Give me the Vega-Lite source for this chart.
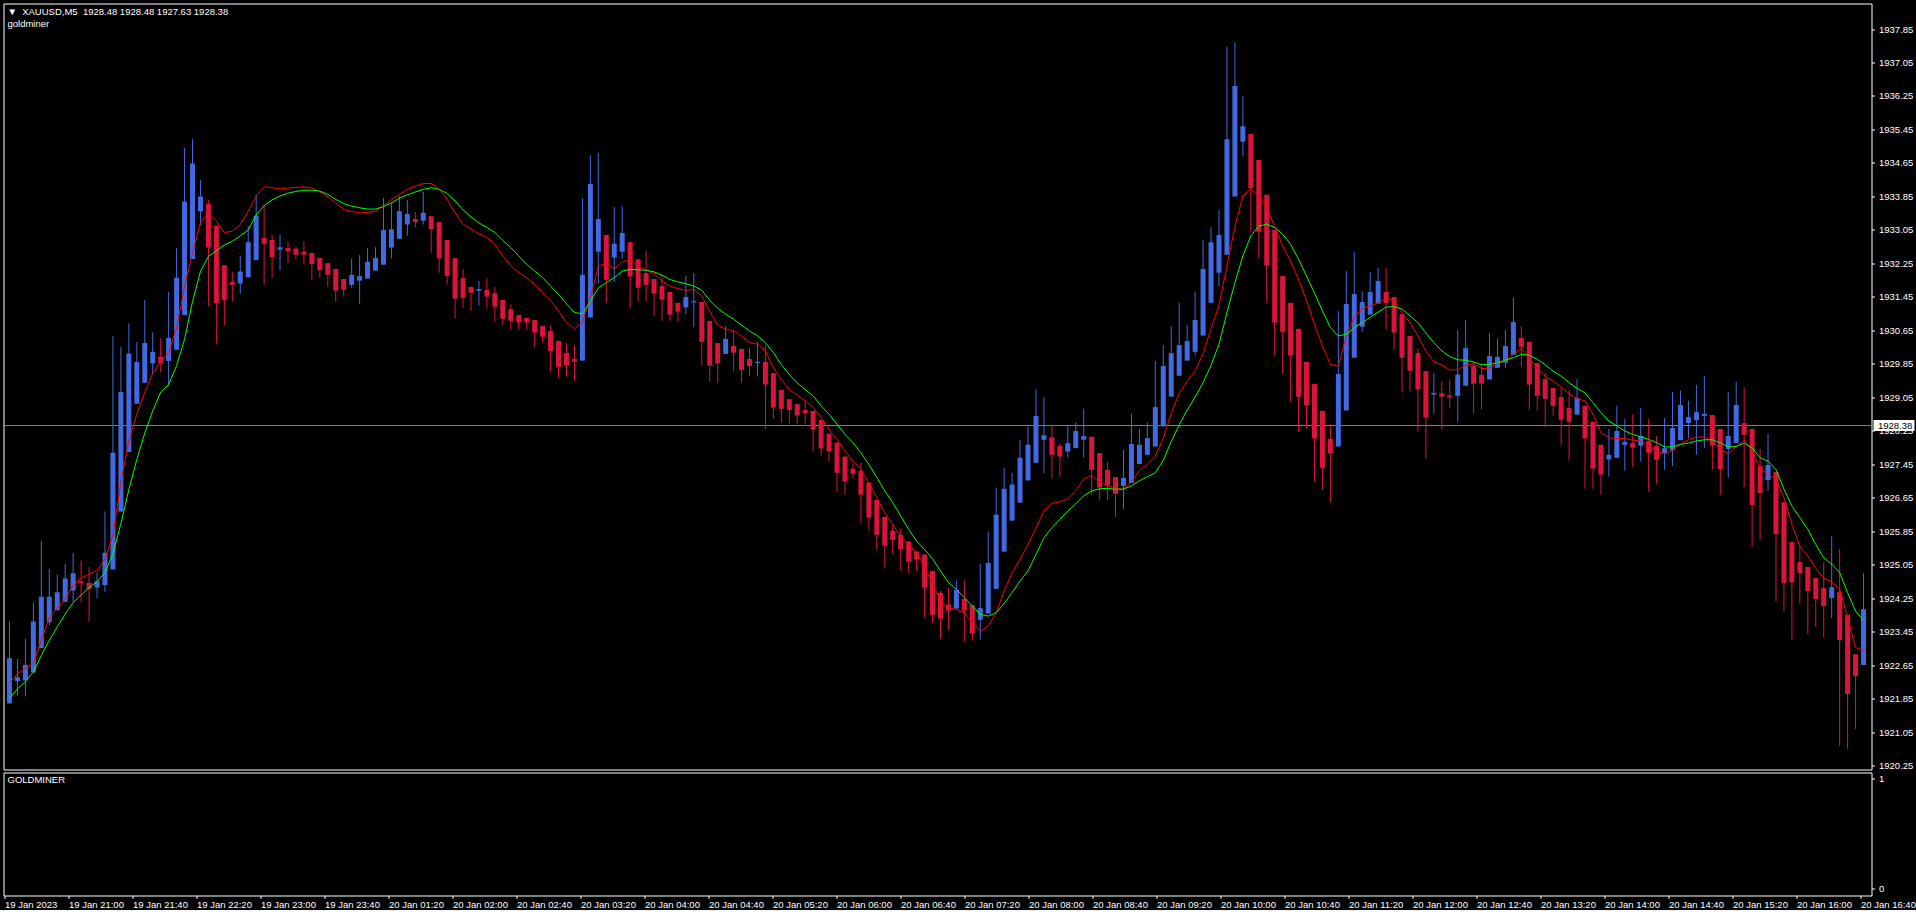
{
"$schema": "https://vega.github.io/schema/vega-lite/v6.json",
"background": "#000000",
"padding": {"left": 2.5, "top": 2.5, "right": 0, "bottom": 0},
"spacing": 3,
"bounds": "flush",
"datasets": {
"bid": [{"p": 1928.38}],
"bars": [
{"i":0,"o":1921.75,"h":1923.70,"l":1921.73,"c":1922.82,"r":1922.23,"g":1921.86},
{"i":1,"o":1922.28,"h":1922.80,"l":1921.93,"c":1922.37,"r":1922.45,"g":1922.09},
{"i":2,"o":1922.30,"h":1923.29,"l":1921.91,"c":1922.66,"r":1922.58,"g":1922.27},
{"i":3,"o":1922.48,"h":1924.15,"l":1922.48,"c":1923.70,"r":1922.71,"g":1922.49},
{"i":4,"o":1923.07,"h":1925.63,"l":1923.07,"c":1924.29,"r":1923.25,"g":1922.89},
{"i":5,"o":1923.68,"h":1924.96,"l":1923.61,"c":1924.29,"r":1923.79,"g":1923.25},
{"i":6,"o":1923.97,"h":1924.82,"l":1923.97,"c":1924.40,"r":1924.02,"g":1923.57},
{"i":7,"o":1924.17,"h":1925.08,"l":1924.17,"c":1924.73,"r":1924.24,"g":1923.88},
{"i":8,"o":1924.44,"h":1925.34,"l":1924.17,"c":1924.85,"r":1924.56,"g":1924.15},
{"i":9,"o":1924.66,"h":1925.16,"l":1924.15,"c":1924.62,"r":1924.74,"g":1924.33},
{"i":10,"o":1924.62,"h":1925.00,"l":1923.70,"c":1924.47,"r":1924.83,"g":1924.51},
{"i":11,"o":1924.51,"h":1924.87,"l":1924.26,"c":1924.66,"r":1924.92,"g":1924.65},
{"i":12,"o":1924.57,"h":1926.33,"l":1924.40,"c":1925.34,"r":1925.19,"g":1924.87},
{"i":13,"o":1924.94,"h":1930.51,"l":1924.94,"c":1927.73,"r":1925.77,"g":1925.32},
{"i":14,"o":1926.33,"h":1930.26,"l":1926.33,"c":1929.18,"r":1927.03,"g":1926.04},
{"i":15,"o":1927.75,"h":1930.82,"l":1927.75,"c":1930.10,"r":1928.02,"g":1926.85},
{"i":16,"o":1928.90,"h":1930.37,"l":1928.90,"c":1929.90,"r":1928.65,"g":1927.57},
{"i":17,"o":1929.40,"h":1931.38,"l":1929.40,"c":1930.35,"r":1929.18,"g":1928.20},
{"i":18,"o":1929.87,"h":1930.60,"l":1929.62,"c":1930.14,"r":1929.63,"g":1928.73},
{"i":19,"o":1930.02,"h":1930.46,"l":1929.65,"c":1929.88,"r":1929.90,"g":1929.18},
{"i":20,"o":1929.92,"h":1931.57,"l":1929.32,"c":1930.47,"r":1930.13,"g":1929.36},
{"i":21,"o":1930.19,"h":1932.62,"l":1930.19,"c":1931.91,"r":1930.71,"g":1929.81},
{"i":22,"o":1931.02,"h":1935.01,"l":1931.02,"c":1933.73,"r":1931.70,"g":1930.44},
{"i":23,"o":1932.36,"h":1935.22,"l":1932.36,"c":1934.64,"r":1932.51,"g":1931.34},
{"i":24,"o":1933.50,"h":1934.24,"l":1933.16,"c":1933.85,"r":1933.23,"g":1932.06},
{"i":25,"o":1933.67,"h":1933.77,"l":1931.23,"c":1932.63,"r":1933.45,"g":1932.42},
{"i":26,"o":1933.15,"h":1933.15,"l":1930.33,"c":1931.30,"r":1933.27,"g":1932.55},
{"i":27,"o":1932.21,"h":1932.21,"l":1930.77,"c":1931.37,"r":1932.99,"g":1932.69},
{"i":28,"o":1931.81,"h":1932.06,"l":1931.34,"c":1931.74,"r":1933.02,"g":1932.78},
{"i":29,"o":1931.77,"h":1932.44,"l":1931.52,"c":1932.06,"r":1933.18,"g":1932.91},
{"i":30,"o":1931.92,"h":1933.15,"l":1931.92,"c":1932.76,"r":1933.50,"g":1933.05},
{"i":31,"o":1932.33,"h":1933.89,"l":1932.33,"c":1933.39,"r":1933.86,"g":1933.41},
{"i":32,"o":1932.86,"h":1933.66,"l":1931.74,"c":1932.72,"r":1934.08,"g":1933.63},
{"i":33,"o":1932.81,"h":1932.94,"l":1931.90,"c":1932.40,"r":1934.06,"g":1933.77},
{"i":34,"o":1932.58,"h":1932.94,"l":1932.08,"c":1932.64,"r":1934.03,"g":1933.86},
{"i":35,"o":1932.62,"h":1932.76,"l":1932.27,"c":1932.54,"r":1934.05,"g":1933.93},
{"i":36,"o":1932.60,"h":1932.65,"l":1932.35,"c":1932.46,"r":1934.07,"g":1933.97},
{"i":37,"o":1932.53,"h":1932.78,"l":1932.22,"c":1932.46,"r":1934.08,"g":1934.00},
{"i":38,"o":1932.50,"h":1932.50,"l":1931.86,"c":1932.24,"r":1934.05,"g":1934.00},
{"i":39,"o":1932.38,"h":1932.38,"l":1931.91,"c":1932.09,"r":1933.96,"g":1933.98},
{"i":40,"o":1932.26,"h":1932.26,"l":1931.69,"c":1931.98,"r":1933.84,"g":1933.90},
{"i":41,"o":1932.12,"h":1932.12,"l":1931.34,"c":1931.60,"r":1933.70,"g":1933.78},
{"i":42,"o":1931.88,"h":1931.88,"l":1931.46,"c":1931.62,"r":1933.54,"g":1933.68},
{"i":43,"o":1931.74,"h":1932.36,"l":1931.67,"c":1931.98,"r":1933.49,"g":1933.62},
{"i":44,"o":1931.84,"h":1932.45,"l":1931.29,"c":1931.95,"r":1933.46,"g":1933.58},
{"i":45,"o":1931.89,"h":1932.62,"l":1931.89,"c":1932.29,"r":1933.47,"g":1933.55},
{"i":46,"o":1932.08,"h":1932.64,"l":1932.08,"c":1932.38,"r":1933.50,"g":1933.55},
{"i":47,"o":1932.22,"h":1933.81,"l":1932.22,"c":1933.05,"r":1933.62,"g":1933.61},
{"i":48,"o":1932.63,"h":1933.69,"l":1932.37,"c":1933.07,"r":1933.78,"g":1933.70},
{"i":49,"o":1932.84,"h":1933.86,"l":1932.84,"c":1933.50,"r":1933.90,"g":1933.81},
{"i":50,"o":1933.18,"h":1933.77,"l":1932.91,"c":1933.43,"r":1934.02,"g":1933.89},
{"i":51,"o":1933.31,"h":1933.48,"l":1933.11,"c":1933.24,"r":1934.10,"g":1933.96},
{"i":52,"o":1933.27,"h":1933.96,"l":1933.18,"c":1933.46,"r":1934.16,"g":1934.02},
{"i":53,"o":1933.38,"h":1933.38,"l":1932.51,"c":1933.07,"r":1934.16,"g":1934.06},
{"i":54,"o":1933.24,"h":1933.24,"l":1932.03,"c":1932.37,"r":1934.02,"g":1934.02},
{"i":55,"o":1932.81,"h":1932.81,"l":1931.75,"c":1931.95,"r":1933.78,"g":1933.92},
{"i":56,"o":1932.38,"h":1932.38,"l":1930.93,"c":1931.41,"r":1933.46,"g":1933.74},
{"i":57,"o":1931.90,"h":1932.12,"l":1931.19,"c":1931.43,"r":1933.19,"g":1933.53},
{"i":58,"o":1931.69,"h":1931.69,"l":1931.12,"c":1931.55,"r":1933.07,"g":1933.36},
{"i":59,"o":1931.60,"h":1931.83,"l":1931.24,"c":1931.64,"r":1932.96,"g":1933.22},
{"i":60,"o":1931.62,"h":1931.90,"l":1931.17,"c":1931.46,"r":1932.87,"g":1933.11},
{"i":61,"o":1931.54,"h":1931.69,"l":1930.86,"c":1931.22,"r":1932.71,"g":1932.99},
{"i":62,"o":1931.38,"h":1931.38,"l":1930.77,"c":1930.93,"r":1932.43,"g":1932.80},
{"i":63,"o":1931.16,"h":1931.28,"l":1930.67,"c":1930.88,"r":1932.19,"g":1932.63},
{"i":64,"o":1931.02,"h":1931.02,"l":1930.67,"c":1930.84,"r":1932.03,"g":1932.43},
{"i":65,"o":1930.95,"h":1930.95,"l":1930.67,"c":1930.84,"r":1931.91,"g":1932.23},
{"i":66,"o":1930.90,"h":1930.90,"l":1930.26,"c":1930.60,"r":1931.75,"g":1932.07},
{"i":67,"o":1930.76,"h":1930.76,"l":1930.36,"c":1930.50,"r":1931.55,"g":1931.91},
{"i":68,"o":1930.64,"h":1930.78,"l":1929.68,"c":1930.16,"r":1931.35,"g":1931.71},
{"i":69,"o":1930.40,"h":1930.40,"l":1929.52,"c":1929.78,"r":1931.12,"g":1931.51},
{"i":70,"o":1930.11,"h":1930.35,"l":1929.55,"c":1929.81,"r":1930.84,"g":1931.29},
{"i":71,"o":1929.97,"h":1930.30,"l":1929.45,"c":1929.90,"r":1930.69,"g":1931.08},
{"i":72,"o":1929.93,"h":1933.81,"l":1929.93,"c":1931.98,"r":1930.84,"g":1931.05},
{"i":73,"o":1930.96,"h":1934.84,"l":1930.96,"c":1934.15,"r":1931.43,"g":1931.35},
{"i":74,"o":1932.53,"h":1934.89,"l":1931.77,"c":1933.31,"r":1932.19,"g":1931.67},
{"i":75,"o":1932.93,"h":1932.93,"l":1931.31,"c":1931.86,"r":1932.25,"g":1931.79},
{"i":76,"o":1932.39,"h":1933.60,"l":1931.81,"c":1932.72,"r":1932.13,"g":1931.91},
{"i":77,"o":1932.53,"h":1933.62,"l":1932.37,"c":1932.98,"r":1932.29,"g":1932.07},
{"i":78,"o":1932.76,"h":1932.76,"l":1931.18,"c":1931.94,"r":1932.33,"g":1932.11},
{"i":79,"o":1932.35,"h":1932.35,"l":1931.34,"c":1931.67,"r":1932.19,"g":1932.10},
{"i":80,"o":1932.02,"h":1932.55,"l":1931.34,"c":1931.74,"r":1932.09,"g":1932.09},
{"i":81,"o":1931.88,"h":1931.88,"l":1931.00,"c":1931.53,"r":1932.01,"g":1932.05},
{"i":82,"o":1931.71,"h":1931.97,"l":1930.88,"c":1931.39,"r":1931.83,"g":1931.97},
{"i":83,"o":1931.57,"h":1931.57,"l":1930.88,"c":1931.03,"r":1931.71,"g":1931.87},
{"i":84,"o":1931.31,"h":1931.31,"l":1930.86,"c":1931.10,"r":1931.65,"g":1931.81},
{"i":85,"o":1931.20,"h":1931.95,"l":1931.04,"c":1931.45,"r":1931.61,"g":1931.77},
{"i":86,"o":1931.32,"h":1932.02,"l":1930.73,"c":1931.35,"r":1931.63,"g":1931.71},
{"i":87,"o":1931.33,"h":1931.33,"l":1929.81,"c":1930.38,"r":1931.47,"g":1931.61},
{"i":88,"o":1930.88,"h":1930.88,"l":1929.43,"c":1929.81,"r":1931.11,"g":1931.37},
{"i":89,"o":1930.35,"h":1930.35,"l":1929.40,"c":1929.86,"r":1930.78,"g":1931.18},
{"i":90,"o":1930.09,"h":1930.75,"l":1930.09,"c":1930.45,"r":1930.68,"g":1931.04},
{"i":91,"o":1930.28,"h":1930.64,"l":1929.67,"c":1930.12,"r":1930.64,"g":1930.92},
{"i":92,"o":1930.21,"h":1930.21,"l":1929.40,"c":1929.71,"r":1930.52,"g":1930.78},
{"i":93,"o":1929.97,"h":1930.23,"l":1929.55,"c":1929.80,"r":1930.36,"g":1930.64},
{"i":94,"o":1929.87,"h":1930.38,"l":1929.55,"c":1929.90,"r":1930.32,"g":1930.52},
{"i":95,"o":1929.90,"h":1930.30,"l":1928.30,"c":1929.36,"r":1930.16,"g":1930.36},
{"i":96,"o":1929.63,"h":1929.63,"l":1928.54,"c":1928.81,"r":1929.76,"g":1930.12},
{"i":97,"o":1929.23,"h":1929.23,"l":1928.45,"c":1928.78,"r":1929.48,"g":1929.84},
{"i":98,"o":1929.01,"h":1929.01,"l":1928.43,"c":1928.75,"r":1929.24,"g":1929.60},
{"i":99,"o":1928.89,"h":1928.89,"l":1928.43,"c":1928.62,"r":1929.10,"g":1929.40},
{"i":100,"o":1928.75,"h":1928.97,"l":1928.43,"c":1928.68,"r":1928.97,"g":1929.24},
{"i":101,"o":1928.73,"h":1928.73,"l":1927.76,"c":1928.28,"r":1928.81,"g":1929.09},
{"i":102,"o":1928.51,"h":1928.51,"l":1927.66,"c":1927.83,"r":1928.57,"g":1928.85},
{"i":103,"o":1928.19,"h":1928.19,"l":1927.52,"c":1927.76,"r":1928.29,"g":1928.65},
{"i":104,"o":1927.97,"h":1927.97,"l":1926.80,"c":1927.25,"r":1928.05,"g":1928.41},
{"i":105,"o":1927.64,"h":1927.64,"l":1926.73,"c":1927.04,"r":1927.77,"g":1928.17},
{"i":106,"o":1927.35,"h":1927.49,"l":1927.11,"c":1927.23,"r":1927.53,"g":1927.97},
{"i":107,"o":1927.30,"h":1927.49,"l":1926.04,"c":1926.73,"r":1927.33,"g":1927.73},
{"i":108,"o":1927.02,"h":1927.02,"l":1925.87,"c":1926.18,"r":1927.02,"g":1927.45},
{"i":109,"o":1926.61,"h":1926.61,"l":1925.42,"c":1925.77,"r":1926.66,"g":1927.14},
{"i":110,"o":1926.20,"h":1926.20,"l":1924.99,"c":1925.51,"r":1926.30,"g":1926.82},
{"i":111,"o":1925.87,"h":1926.01,"l":1925.30,"c":1925.65,"r":1926.02,"g":1926.54},
{"i":112,"o":1925.77,"h":1925.92,"l":1924.91,"c":1925.42,"r":1925.74,"g":1926.22},
{"i":113,"o":1925.61,"h":1925.61,"l":1924.87,"c":1925.13,"r":1925.54,"g":1925.90},
{"i":114,"o":1925.37,"h":1925.37,"l":1924.91,"c":1925.18,"r":1925.34,"g":1925.62},
{"i":115,"o":1925.30,"h":1925.30,"l":1923.79,"c":1924.51,"r":1925.00,"g":1925.42},
{"i":116,"o":1924.91,"h":1924.91,"l":1923.67,"c":1923.86,"r":1924.60,"g":1925.20},
{"i":117,"o":1924.38,"h":1924.43,"l":1923.29,"c":1923.77,"r":1924.20,"g":1924.91},
{"i":118,"o":1924.10,"h":1924.51,"l":1923.51,"c":1923.96,"r":1924.03,"g":1924.63},
{"i":119,"o":1924.01,"h":1924.68,"l":1924.01,"c":1924.46,"r":1923.99,"g":1924.47},
{"i":120,"o":1924.24,"h":1924.68,"l":1923.22,"c":1923.96,"r":1923.91,"g":1924.27},
{"i":121,"o":1924.09,"h":1924.09,"l":1923.24,"c":1923.41,"r":1923.67,"g":1924.07},
{"i":122,"o":1923.74,"h":1925.08,"l":1923.27,"c":1924.02,"r":1923.47,"g":1923.87},
{"i":123,"o":1923.89,"h":1925.85,"l":1923.89,"c":1925.10,"r":1923.59,"g":1923.83},
{"i":124,"o":1924.48,"h":1926.90,"l":1924.48,"c":1926.25,"r":1923.91,"g":1923.91},
{"i":125,"o":1925.37,"h":1927.37,"l":1925.37,"c":1926.87,"r":1924.43,"g":1924.13},
{"i":126,"o":1926.11,"h":1927.25,"l":1926.11,"c":1926.97,"r":1924.87,"g":1924.39},
{"i":127,"o":1926.54,"h":1928.04,"l":1926.54,"c":1927.61,"r":1925.19,"g":1924.67},
{"i":128,"o":1927.07,"h":1928.36,"l":1927.07,"c":1927.92,"r":1925.54,"g":1924.91},
{"i":129,"o":1927.49,"h":1929.24,"l":1927.49,"c":1928.61,"r":1925.94,"g":1925.30},
{"i":130,"o":1928.04,"h":1929.06,"l":1927.24,"c":1928.15,"r":1926.34,"g":1925.70},
{"i":131,"o":1928.10,"h":1928.39,"l":1927.11,"c":1927.68,"r":1926.52,"g":1925.94},
{"i":132,"o":1927.89,"h":1927.95,"l":1927.16,"c":1927.64,"r":1926.56,"g":1926.14},
{"i":133,"o":1927.76,"h":1928.39,"l":1927.61,"c":1927.96,"r":1926.63,"g":1926.34},
{"i":134,"o":1927.84,"h":1928.46,"l":1927.84,"c":1928.25,"r":1926.83,"g":1926.51},
{"i":135,"o":1928.04,"h":1928.78,"l":1927.61,"c":1928.13,"r":1927.10,"g":1926.70},
{"i":136,"o":1928.11,"h":1928.11,"l":1926.72,"c":1927.32,"r":1927.19,"g":1926.82},
{"i":137,"o":1927.72,"h":1927.72,"l":1926.60,"c":1926.90,"r":1927.02,"g":1926.87},
{"i":138,"o":1927.32,"h":1927.51,"l":1926.60,"c":1926.96,"r":1926.94,"g":1926.88},
{"i":139,"o":1927.15,"h":1927.15,"l":1926.20,"c":1926.75,"r":1926.87,"g":1926.86},
{"i":140,"o":1926.94,"h":1927.80,"l":1926.39,"c":1927.13,"r":1926.86,"g":1926.86},
{"i":141,"o":1927.01,"h":1928.66,"l":1927.01,"c":1927.94,"r":1927.02,"g":1926.94},
{"i":142,"o":1927.46,"h":1928.30,"l":1927.46,"c":1927.92,"r":1927.31,"g":1927.06},
{"i":143,"o":1927.68,"h":1928.46,"l":1927.68,"c":1928.08,"r":1927.45,"g":1927.16},
{"i":144,"o":1927.88,"h":1929.92,"l":1927.88,"c":1928.82,"r":1927.65,"g":1927.25},
{"i":145,"o":1928.36,"h":1930.30,"l":1928.36,"c":1929.80,"r":1928.08,"g":1927.55},
{"i":146,"o":1929.07,"h":1930.75,"l":1929.07,"c":1930.11,"r":1928.67,"g":1928.00},
{"i":147,"o":1929.57,"h":1931.31,"l":1929.57,"c":1930.30,"r":1929.15,"g":1928.40},
{"i":148,"o":1929.93,"h":1930.78,"l":1929.93,"c":1930.40,"r":1929.44,"g":1928.75},
{"i":149,"o":1930.14,"h":1931.57,"l":1930.05,"c":1930.90,"r":1929.68,"g":1929.06},
{"i":150,"o":1930.53,"h":1932.81,"l":1930.53,"c":1932.12,"r":1930.10,"g":1929.40},
{"i":151,"o":1931.31,"h":1933.12,"l":1931.31,"c":1932.76,"r":1930.70,"g":1929.82},
{"i":152,"o":1932.03,"h":1933.53,"l":1931.70,"c":1932.93,"r":1931.25,"g":1930.32},
{"i":153,"o":1932.46,"h":1937.42,"l":1932.46,"c":1935.22,"r":1932.19,"g":1931.08},
{"i":154,"o":1933.85,"h":1937.54,"l":1933.85,"c":1936.49,"r":1933.14,"g":1931.79},
{"i":155,"o":1935.16,"h":1936.25,"l":1934.82,"c":1935.53,"r":1933.86,"g":1932.43},
{"i":156,"o":1935.34,"h":1935.34,"l":1932.99,"c":1934.05,"r":1934.04,"g":1932.91},
{"i":157,"o":1934.72,"h":1934.72,"l":1932.37,"c":1933.01,"r":1933.86,"g":1933.14},
{"i":158,"o":1933.89,"h":1933.89,"l":1931.31,"c":1932.20,"r":1933.58,"g":1933.19},
{"i":159,"o":1933.05,"h":1933.05,"l":1930.05,"c":1930.84,"r":1933.14,"g":1933.11},
{"i":160,"o":1931.95,"h":1931.95,"l":1929.62,"c":1930.62,"r":1932.67,"g":1932.95},
{"i":161,"o":1931.31,"h":1931.31,"l":1928.95,"c":1930.05,"r":1932.31,"g":1932.71},
{"i":162,"o":1930.69,"h":1930.69,"l":1928.23,"c":1929.07,"r":1931.87,"g":1932.35},
{"i":163,"o":1929.90,"h":1929.90,"l":1928.31,"c":1928.86,"r":1931.36,"g":1931.95},
{"i":164,"o":1929.37,"h":1929.37,"l":1927.04,"c":1928.07,"r":1930.80,"g":1931.55},
{"i":165,"o":1928.73,"h":1928.73,"l":1926.85,"c":1927.37,"r":1930.28,"g":1931.12},
{"i":166,"o":1928.06,"h":1928.42,"l":1926.54,"c":1927.71,"r":1929.84,"g":1930.72},
{"i":167,"o":1927.88,"h":1931.11,"l":1927.88,"c":1929.61,"r":1929.80,"g":1930.52},
{"i":168,"o":1928.74,"h":1932.07,"l":1928.74,"c":1931.28,"r":1930.52,"g":1930.56},
{"i":169,"o":1930.00,"h":1932.53,"l":1930.00,"c":1931.52,"r":1930.97,"g":1930.72},
{"i":170,"o":1930.74,"h":1931.59,"l":1930.62,"c":1931.33,"r":1931.17,"g":1930.84},
{"i":171,"o":1931.03,"h":1932.05,"l":1931.03,"c":1931.57,"r":1931.24,"g":1930.96},
{"i":172,"o":1931.29,"h":1932.14,"l":1931.29,"c":1931.83,"r":1931.31,"g":1931.09},
{"i":173,"o":1931.57,"h":1932.14,"l":1930.67,"c":1931.31,"r":1931.43,"g":1931.21},
{"i":174,"o":1931.45,"h":1931.45,"l":1930.19,"c":1930.60,"r":1931.36,"g":1931.22},
{"i":175,"o":1931.04,"h":1931.04,"l":1929.17,"c":1930.00,"r":1931.08,"g":1931.16},
{"i":176,"o":1930.52,"h":1930.52,"l":1929.19,"c":1929.69,"r":1930.84,"g":1931.00},
{"i":177,"o":1930.11,"h":1930.22,"l":1928.23,"c":1929.24,"r":1930.52,"g":1930.84},
{"i":178,"o":1929.68,"h":1929.68,"l":1927.61,"c":1928.57,"r":1930.16,"g":1930.59},
{"i":179,"o":1929.12,"h":1929.64,"l":1928.66,"c":1929.16,"r":1929.90,"g":1930.36},
{"i":180,"o":1929.15,"h":1929.44,"l":1928.28,"c":1929.07,"r":1929.83,"g":1930.16},
{"i":181,"o":1929.10,"h":1929.48,"l":1928.79,"c":1929.05,"r":1929.71,"g":1930.03},
{"i":182,"o":1929.09,"h":1930.66,"l":1928.47,"c":1929.60,"r":1929.71,"g":1929.95},
{"i":183,"o":1929.33,"h":1930.90,"l":1929.33,"c":1930.23,"r":1929.82,"g":1929.94},
{"i":184,"o":1929.80,"h":1929.90,"l":1928.66,"c":1929.38,"r":1929.86,"g":1929.90},
{"i":185,"o":1929.59,"h":1929.85,"l":1928.76,"c":1929.38,"r":1929.74,"g":1929.83},
{"i":186,"o":1929.48,"h":1930.59,"l":1929.48,"c":1930.04,"r":1929.75,"g":1929.84},
{"i":187,"o":1929.76,"h":1930.45,"l":1929.76,"c":1930.02,"r":1929.87,"g":1929.88},
{"i":188,"o":1929.88,"h":1930.66,"l":1929.76,"c":1930.28,"r":1929.92,"g":1929.94},
{"i":189,"o":1930.07,"h":1931.43,"l":1930.07,"c":1930.85,"r":1930.08,"g":1930.00},
{"i":190,"o":1930.47,"h":1930.76,"l":1929.79,"c":1930.26,"r":1930.22,"g":1930.08},
{"i":191,"o":1930.38,"h":1930.38,"l":1928.74,"c":1929.36,"r":1930.00,"g":1930.06},
{"i":192,"o":1929.87,"h":1929.87,"l":1928.74,"c":1929.09,"r":1929.76,"g":1929.96},
{"i":193,"o":1929.49,"h":1929.64,"l":1928.35,"c":1929.02,"r":1929.56,"g":1929.83},
{"i":194,"o":1929.28,"h":1929.28,"l":1928.62,"c":1928.85,"r":1929.44,"g":1929.68},
{"i":195,"o":1929.06,"h":1929.28,"l":1927.92,"c":1928.52,"r":1929.30,"g":1929.56},
{"i":196,"o":1928.80,"h":1929.23,"l":1927.54,"c":1928.47,"r":1929.14,"g":1929.40},
{"i":197,"o":1928.64,"h":1929.49,"l":1928.64,"c":1929.04,"r":1929.02,"g":1929.27},
{"i":198,"o":1928.85,"h":1928.85,"l":1926.87,"c":1928.07,"r":1928.97,"g":1929.16},
{"i":199,"o":1928.47,"h":1928.47,"l":1926.87,"c":1927.35,"r":1928.65,"g":1928.93},
{"i":200,"o":1927.92,"h":1927.92,"l":1926.73,"c":1927.21,"r":1928.21,"g":1928.69},
{"i":201,"o":1927.57,"h":1928.30,"l":1927.16,"c":1927.68,"r":1928.09,"g":1928.49},
{"i":202,"o":1927.61,"h":1928.85,"l":1927.61,"c":1928.25,"r":1928.07,"g":1928.37},
{"i":203,"o":1927.92,"h":1928.54,"l":1927.30,"c":1927.99,"r":1928.07,"g":1928.25},
{"i":204,"o":1927.96,"h":1928.65,"l":1927.40,"c":1927.85,"r":1928.03,"g":1928.17},
{"i":205,"o":1927.90,"h":1928.80,"l":1927.52,"c":1928.13,"r":1928.01,"g":1928.11},
{"i":206,"o":1928.01,"h":1928.54,"l":1926.80,"c":1927.73,"r":1927.90,"g":1928.05},
{"i":207,"o":1927.89,"h":1928.13,"l":1926.98,"c":1927.56,"r":1927.77,"g":1927.97},
{"i":208,"o":1927.72,"h":1928.56,"l":1927.32,"c":1927.84,"r":1927.71,"g":1927.87},
{"i":209,"o":1927.79,"h":1929.18,"l":1927.41,"c":1928.32,"r":1927.79,"g":1927.87},
{"i":210,"o":1928.03,"h":1929.21,"l":1928.03,"c":1928.87,"r":1927.93,"g":1927.93},
{"i":211,"o":1928.44,"h":1928.97,"l":1928.08,"c":1928.58,"r":1928.05,"g":1927.96},
{"i":212,"o":1928.51,"h":1929.35,"l":1927.68,"c":1928.70,"r":1928.10,"g":1928.01},
{"i":213,"o":1928.61,"h":1929.56,"l":1927.84,"c":1928.66,"r":1928.11,"g":1928.04},
{"i":214,"o":1928.63,"h":1928.63,"l":1927.34,"c":1927.91,"r":1928.01,"g":1928.04},
{"i":215,"o":1928.30,"h":1928.30,"l":1926.72,"c":1927.34,"r":1927.81,"g":1927.97},
{"i":216,"o":1927.82,"h":1929.18,"l":1927.13,"c":1928.13,"r":1927.71,"g":1927.87},
{"i":217,"o":1927.96,"h":1929.42,"l":1927.96,"c":1928.87,"r":1927.87,"g":1927.88},
{"i":218,"o":1928.44,"h":1929.30,"l":1926.91,"c":1928.16,"r":1928.03,"g":1927.96},
{"i":219,"o":1928.30,"h":1928.30,"l":1925.48,"c":1926.48,"r":1927.77,"g":1927.85},
{"i":220,"o":1927.41,"h":1927.82,"l":1925.65,"c":1926.77,"r":1927.37,"g":1927.61},
{"i":221,"o":1927.08,"h":1928.18,"l":1926.82,"c":1927.44,"r":1927.21,"g":1927.53},
{"i":222,"o":1927.27,"h":1927.27,"l":1924.17,"c":1925.79,"r":1927.10,"g":1927.33},
{"i":223,"o":1926.55,"h":1926.55,"l":1923.95,"c":1924.62,"r":1926.66,"g":1926.86},
{"i":224,"o":1925.60,"h":1925.60,"l":1923.26,"c":1924.64,"r":1926.02,"g":1926.46},
{"i":225,"o":1925.12,"h":1925.50,"l":1924.12,"c":1924.86,"r":1925.50,"g":1926.18},
{"i":226,"o":1925.00,"h":1925.00,"l":1923.40,"c":1924.43,"r":1925.26,"g":1925.90},
{"i":227,"o":1924.74,"h":1924.74,"l":1923.57,"c":1924.24,"r":1924.97,"g":1925.54},
{"i":228,"o":1924.50,"h":1925.12,"l":1923.33,"c":1924.07,"r":1924.73,"g":1925.22},
{"i":229,"o":1924.26,"h":1925.74,"l":1923.78,"c":1924.52,"r":1924.65,"g":1925.07},
{"i":230,"o":1924.40,"h":1925.43,"l":1920.73,"c":1923.26,"r":1924.47,"g":1924.87},
{"i":231,"o":1923.86,"h":1923.86,"l":1920.66,"c":1921.97,"r":1923.79,"g":1924.39},
{"i":232,"o":1922.92,"h":1922.92,"l":1921.13,"c":1922.40,"r":1923.08,"g":1923.95},
{"i":233,"o":1922.66,"h":1924.86,"l":1922.66,"c":1923.99,"r":1923.00,"g":1923.73}
]
},
"vconcat": [
{
"width": 1868,
"height": 766,
"title": {"text": "▼\u00a0 XAUUSD,M5\u00a0 1928.48 1928.48 1927.63 1928.38", "subtitle": "goldminer", "anchor": "start", "frame": "group", "orient": "top", "offset": -25, "dx": 4, "font": "Liberation Sans", "fontSize": 9.5, "fontWeight": "normal", "color": "#ffffff", "subtitleFont": "Liberation Sans", "subtitleFontSize": 9.5, "subtitleColor": "#ffffff", "subtitlePadding": 3},
"layer": [
{"data": {"name": "bid"}, "mark": {"type": "rule", "color": "#778899", "strokeWidth": 1},
 "encoding": {"y": {"field": "p", "type": "quantitative", "scale": {"domain": [1920.166, 1938.459], "zero": false, "nice": false},
  "axis": {"orient": "right", "title": null, "zindex": 0, "tickCount": 40, "values": [1920.25,1921.05,1921.85,1922.65,1923.45,1924.25,1925.05,1925.85,1926.65,1927.45,1928.25,1929.05,1929.85,1930.65,1931.45,1932.25,1933.05,1933.85,1934.65,1935.45,1936.25,1937.05,1937.85], "format": ".2f", "labelAlign": "left", "labelBaseline": "middle", "tickSize": 3, "labelPadding": 4, "labelOverlap": false, "labelFlush": false, "labelBound": false}}}},
{"data": {"name": "bars"}, "mark": {"type": "rule", "strokeWidth": 1, "clip": true},
 "encoding": {
  "x": {"field": "i", "type": "quantitative", "scale": {"domain": [-0.125, 233.375], "zero": false, "nice": false}, "axis": null},
  "y": {"field": "l", "type": "quantitative", "scale": {"domain": [1920.166, 1938.459], "zero": false, "nice": false}},
  "y2": {"field": "h"},
  "color": {"condition": {"test": "datum.c >= datum.o", "value": "#4169e1"}, "value": "#dc143c"}}},
{"data": {"name": "bars"}, "mark": {"type": "bar", "size": 5, "clip": true},
 "encoding": {
  "x": {"field": "i", "type": "quantitative"},
  "y": {"field": "o", "type": "quantitative"},
  "y2": {"field": "c"},
  "color": {"condition": {"test": "datum.c >= datum.o", "value": "#4169e1"}, "value": "#dc143c"}}},
{"data": {"name": "bars"}, "mark": {"type": "line", "color": "#ff0000", "strokeWidth": 1, "clip": true},
 "encoding": {"x": {"field": "i", "type": "quantitative"}, "y": {"field": "r", "type": "quantitative"}}},
{"data": {"name": "bars"}, "mark": {"type": "line", "color": "#00ff00", "strokeWidth": 1, "clip": true},
 "encoding": {"x": {"field": "i", "type": "quantitative"}, "y": {"field": "g", "type": "quantitative"}}},
{"data": {"name": "bid"}, "mark": {"type": "rect", "color": "#ffffff", "clip": false, "xOffset": 2, "x2Offset": 43, "yOffset": -5.5, "y2Offset": 5.5},
 "encoding": {"x": {"value": "width"}, "x2": {"value": "width"}, "y": {"field": "p", "type": "quantitative"}, "y2": {"field": "p"}}},
{"data": {"name": "bid"}, "mark": {"type": "text", "color": "#000000", "align": "left", "baseline": "middle", "dx": 6.5, "font": "Liberation Sans", "fontSize": 9.5, "clip": false},
 "encoding": {"x": {"value": "width"}, "y": {"field": "p", "type": "quantitative"}, "text": {"field": "p", "type": "quantitative", "format": ".2f"}}}
]
},
{
"width": 1868,
"height": 123,
"title": {"text": "GOLDMINER", "anchor": "start", "frame": "group", "orient": "top", "offset": -12, "dx": 4, "font": "Liberation Sans", "fontSize": 9.5, "fontWeight": "normal", "color": "#ffffff"},
"data": {"name": "bars"},
"mark": {"type": "point", "opacity": 0, "size": 1},
"encoding": {
 "x": {"field": "i", "type": "quantitative", "scale": {"domain": [-0.125, 233.375], "zero": false, "nice": false},
  "axis": {"title": null, "tickCount": 60, "values": [0,8,16,24,32,40,48,56,64,72,80,88,96,104,112,120,128,136,144,152,160,168,176,184,192,200,208,216,224,232],
   "labelExpr": "['19 Jan 2023','19 Jan 21:00','19 Jan 21:40','19 Jan 22:20','19 Jan 23:00','19 Jan 23:40','20 Jan 01:20','20 Jan 02:00','20 Jan 02:40','20 Jan 03:20','20 Jan 04:00','20 Jan 04:40','20 Jan 05:20','20 Jan 06:00','20 Jan 06:40','20 Jan 07:20','20 Jan 08:00','20 Jan 08:40','20 Jan 09:20','20 Jan 10:00','20 Jan 10:40','20 Jan 11:20','20 Jan 12:00','20 Jan 12:40','20 Jan 13:20','20 Jan 14:00','20 Jan 14:40','20 Jan 15:20','20 Jan 16:00','20 Jan 16:40'][round(datum.value/8)]",
   "labelAlign": "left", "labelBaseline": "top", "labelPadding": 1, "labelDx": -1, "tickSize": 3, "labelOverlap": false, "labelFlush": false, "labelBound": false}},
 "y": {"datum": 0.5, "type": "quantitative", "scale": {"domain": [-0.0688, 1.0596], "zero": false, "nice": false},
  "axis": {"orient": "right", "title": null, "tickCount": 5, "values": [0, 1], "format": "d", "labelAlign": "left", "labelBaseline": "middle", "tickSize": 3, "labelPadding": 4, "labelOverlap": false, "labelFlush": false, "labelBound": false}}
}
}
],
"config": {
 "view": {"stroke": "#ffffff", "strokeWidth": 1, "fill": "#000000"},
 "axis": {"domain": false, "grid": false, "tickColor": "#ffffff", "tickWidth": 1, "labelColor": "#ffffff", "labelFont": "Liberation Sans", "labelFontSize": 9.5, "labelOverlap": false}
}
}
